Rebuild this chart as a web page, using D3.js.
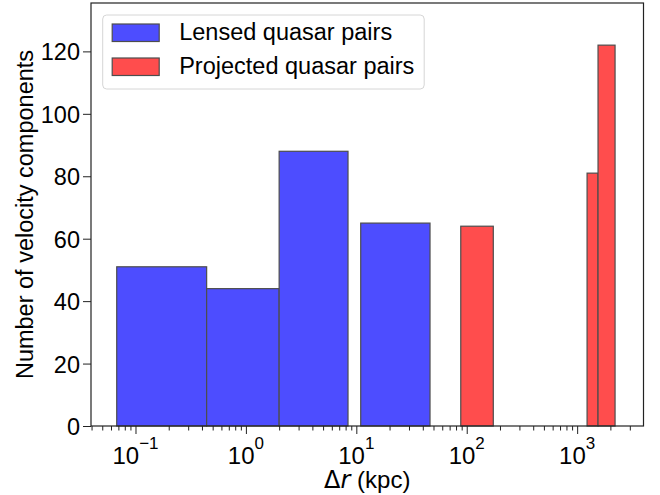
<!DOCTYPE html>
<html>
<head>
<meta charset="utf-8">
<script src="https://cdn.jsdelivr.net/npm/d3@7"></script>
<style>
  body { margin: 0; background: #fff; }
  text { font-family: "Liberation Sans", Arial, sans-serif; fill: #000; }
</style>
</head>
<body>
<svg class="chart"></svg>
<script>
// bins (kpc) and their counts
var lensedLow   = [0.0676, 0.441, 2.0, 10.96];
var lensedHigh  = [0.441, 2.0, 8.41, 46.5];
var lensedCount = [51, 44, 88, 65];

var projectedLow   = [88.3, 1230, 1546];
var projectedHigh  = [174, 1546, 2205];
var projectedCount = [64, 81, 122];

var xTickExps = [-1, 0, 1, 2, 3];
var yTicks = [0, 20, 40, 60, 80, 100, 120];

var seriesNames = ["Lensed quasar pairs", "Projected quasar pairs"];
var seriesColors = ["#4d4dff", "#ff4d4d"];

var margin = { top: 3, right: 16.5, bottom: 69, left: 91 },
    width = 660 - margin.left - margin.right,
    height = 495 - margin.top - margin.bottom;

var svg = d3.select(".chart")
    .attr("width", 660)
    .attr("height", 495)
  .append("g")
    .attr("transform", "translate(" + margin.left + "," + margin.top + ")");

var x = d3.scaleLog()
    .domain([0.03954, 3990])
    .range([0, width]);

var y = d3.scaleLinear()
    .domain([0, 135.5])
    .range([height, 0]);

function bars(low, high, count, color) {
  var rows = low.map(function(d, i) { return { lo: d, hi: high[i], n: count[i] }; });
  svg.selectAll(null)
      .data(rows)
    .enter().append("rect")
      .attr("x", function(d) { return x(d.lo); })
      .attr("width", function(d) { return x(d.hi) - x(d.lo); })
      .attr("y", function(d) { return y(d.n); })
      .attr("height", function(d) { return height - y(d.n); })
      .attr("fill", color)
      .attr("stroke", "#4d4d4d")
      .attr("stroke-width", 1.2);
}
bars(lensedLow, lensedHigh, lensedCount, seriesColors[0]);
bars(projectedLow, projectedHigh, projectedCount, seriesColors[1]);

// minor ticks on the log axis
var minor = [];
for (var e = -2; e <= 3; e++) {
  for (var m = 2; m <= 9; m++) {
    var v = m * Math.pow(10, e);
    if (v > x.domain()[0] && v < x.domain()[1]) minor.push(v);
  }
}

var xMinor = svg.append("g")
    .attr("transform", "translate(0," + height + ")")
    .call(d3.axisBottom(x).tickValues(minor).tickSize(4.5).tickFormat(""));

var xMajor = svg.append("g")
    .attr("transform", "translate(0," + height + ")")
    .call(d3.axisBottom(x)
      .tickValues(xTickExps.map(function(p) { return Math.pow(10, p); }))
      .tickSize(8).tickFormat(""));

var yAxis = svg.append("g")
    .call(d3.axisLeft(y).tickValues(yTicks).tickSize(8).tickPadding(3));

[xMinor, xMajor, yAxis].forEach(function(g) {
  g.select(".domain").remove();
  g.selectAll("line").attr("stroke", "#222").attr("stroke-width", 1);
});
yAxis.selectAll("text")
    .style("font-size", "23.5px")
    .attr("font-family", null)
    .attr("dy", "0.36em");

// x tick labels as 10^n
var xl = svg.append("g");
xTickExps.forEach(function(p) {
  var t = xl.append("text")
      .attr("x", x(Math.pow(10, p)))
      .attr("y", height + 37.5)
      .attr("text-anchor", "middle")
      .style("font-size", "24px");
  t.append("tspan").text("10");
  t.append("tspan")
      .attr("dy", -14.5)
      .style("font-size", "17px")
      .text(p < 0 ? "\u2212" + Math.abs(p) : p);
});

// frame
svg.append("rect")
    .attr("width", width)
    .attr("height", height)
    .attr("fill", "none")
    .attr("stroke", "#222")
    .attr("stroke-width", 1.2);

// axis titles
var xt = svg.append("text")
    .attr("x", width / 2)
    .attr("y", height + 62)
    .attr("text-anchor", "middle")
    .style("font-size", "24px");
xt.append("tspan").attr("font-family", "DejaVu Sans").text("\u0394");
xt.append("tspan").attr("font-family", "DejaVu Sans").attr("font-style", "italic").text("r");
xt.append("tspan").text(" (kpc)");

svg.append("text")
    .attr("transform", "translate(" + (33 - margin.left) + "," + (height / 2) + ") rotate(-90)")
    .attr("text-anchor", "middle")
    .style("font-size", "23.5px")
    .text("Number of velocity components");

// legend
var lg = svg.append("g").attr("transform", "translate(" + (102.7 - margin.left) + "," + (15 - margin.top) + ")");
lg.append("rect")
    .attr("width", 321.5)
    .attr("height", 74)
    .attr("rx", 4)
    .attr("fill", "#fff")
    .attr("fill-opacity", 0.8)
    .attr("stroke", "#d6d6d6")
    .attr("stroke-width", 1);
seriesNames.forEach(function(name, i) {
  lg.append("rect")
      .attr("x", 9.5)
      .attr("y", 9 + i * 34)
      .attr("width", 47)
      .attr("height", 17.5)
      .attr("fill", seriesColors[i])
      .attr("stroke", "#4d4d4d")
      .attr("stroke-width", 1.2);
  lg.append("text")
      .attr("x", 76.5)
      .attr("y", 25 + i * 34)
      .style("font-size", "23.5px")
      .text(name);
});
</script>
</body>
</html>
